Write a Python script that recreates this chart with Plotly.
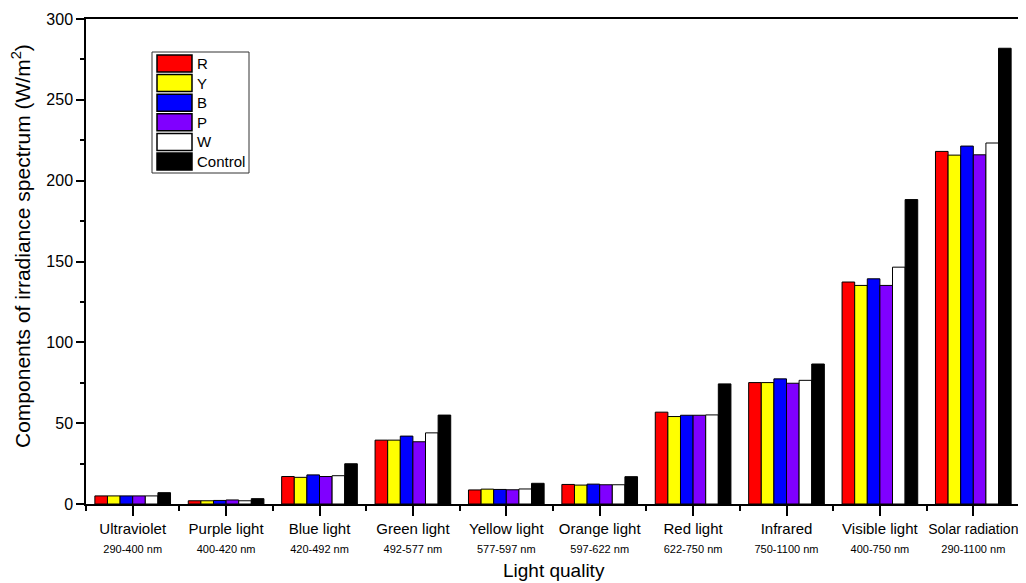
import plotly.graph_objects as go

categories = ["Ultraviolet", "Purple light", "Blue light", "Green light", "Yellow light",
              "Orange light", "Red light", "Infrared", "Visible light", "Solar radiation"]
ranges = ["290-400 nm", "400-420 nm", "420-492 nm", "492-577 nm", "577-597 nm",
          "597-622 nm", "622-750 nm", "750-1100 nm", "400-750 nm", "290-1100 nm"]

R = [5.0, 2.0, 17.0, 39.5, 8.7, 12.1, 56.8, 75.1, 137.3, 218.1]
Y = [5.0, 2.0, 16.5, 39.5, 9.2, 11.7, 54.1, 75.1, 135.2, 215.8]
B = [5.0, 2.2, 18.0, 42.0, 9.0, 12.3, 54.9, 77.4, 139.3, 221.4]
P = [5.0, 2.5, 17.0, 38.5, 8.8, 11.9, 54.9, 74.7, 135.2, 216.0]
W = [5.0, 2.0, 17.5, 44.0, 9.3, 11.9, 55.1, 76.5, 146.5, 223.3]
Control = [7.0, 3.3, 24.9, 55.0, 12.8, 16.9, 74.3, 86.6, 188.3, 281.9]

series_names = ["R", "Y", "B", "P", "W", "Control"]
series_values = [R, Y, B, P, W, Control]
series_colors = ["#ff0000", "#ffff00", "#0000ff", "#8000ff", "#ffffff", "#000000"]

x_idx = list(range(len(categories)))
ticktext = []
for c, r in zip(categories, ranges):
    # the last (longest) label is set a little tighter so it fits at the right edge, as in the original
    name = f"<span style='font-size:14px'>{c}</span>" if c == "Solar radiation" else c
    ticktext.append(f"{name}<br><span style='font-size:11px'>{r}</span>")

# The page body adds an 8px offset; figure is sized so it ends at the window edge.
OFF = 8
W_PX, H_PX = 1026 - OFF, 583 - OFF
# desired plot area on screen: x 86..1020, y 19..504
L = 86 - OFF
T = 19 - OFF
Rm = W_PX - (1020 - OFF)
Bm = H_PX - (504 - OFF)
PW = W_PX - L - Rm
PH = H_PX - T - Bm


def px(sx):
    return (sx - OFF - L) / PW


def py(sy):
    return (H_PX - Bm - (sy - OFF)) / PH


fig = go.Figure()
for name, vals, col in zip(series_names, series_values, series_colors):
    fig.add_trace(go.Bar(name=name, x=x_idx, y=vals, showlegend=False,
                         marker=dict(color=col, line=dict(color="black", width=1))))

font_family = "Liberation Sans, Arial, sans-serif"

shapes = []
annotations = []
# legend box
shapes.append(dict(type="rect", xref="paper", yref="paper", x0=px(152), x1=px(249), y0=py(173), y1=py(52),
                   line=dict(color="#333", width=1), fillcolor="white", layer="above"))
for i, (name, col) in enumerate(zip(series_names, series_colors)):
    top = 55 + 19.6 * i
    shapes.append(dict(type="rect", xref="paper", yref="paper", x0=px(157), x1=px(192),
                       y0=py(top + 17), y1=py(top), fillcolor=col,
                       line=dict(color="black", width=1.5), layer="above"))
    annotations.append(dict(xref="paper", yref="paper", x=px(195), y=py(top + 8.5), text=name,
                            showarrow=False, xanchor="left", yanchor="middle", font=dict(size=15)))

# axis titles
annotations.append(dict(xref="paper", yref="paper", x=px(554), y=py(570), text="Light quality", showarrow=False,
                        xanchor="center", yanchor="middle", font=dict(size=19)))
annotations.append(dict(xref="paper", yref="paper", x=px(21), y=py(246),
                        text="Components of irradiance spectrum (W/m<sup>2</sup>)", showarrow=False,
                        textangle=-90, xanchor="center", yanchor="middle", font=dict(size=21)))

fig.update_layout(
    barmode="group", bargap=0.19, bargroupgap=0,
    width=W_PX, height=H_PX,
    margin=dict(l=L, r=Rm, t=T, b=Bm, autoexpand=False),
    plot_bgcolor="white", paper_bgcolor="white",
    font=dict(family=font_family, size=15, color="black"),
    showlegend=False,
    shapes=shapes, annotations=annotations,
    xaxis=dict(
        range=[-0.5, 9.5], tickmode="array", tickvals=x_idx, ticktext=ticktext, tickangle=0,
        showline=True, linecolor="black", linewidth=1.5, mirror=True,
        ticks="outside", ticklen=10, tickwidth=1.5, tickcolor="black",
        minor=dict(tickmode="array", tickvals=[i + 0.5 for i in range(-1, 10)], ticks="outside",
                   ticklen=5, tickwidth=1.5, tickcolor="black"),
        showgrid=False, zeroline=False, automargin=False,
        tickfont=dict(size=15),
    ),
    yaxis=dict(
        range=[0, 300], tickvals=[0, 50, 100, 150, 200, 250, 300],
        showline=True, linecolor="black", linewidth=1.5, mirror=True,
        ticks="outside", ticklen=8, tickwidth=1.5, tickcolor="black",
        minor=dict(tickvals=[25, 75, 125, 175, 225, 275], ticks="outside", ticklen=4,
                   tickwidth=1.5, tickcolor="black"),
        showgrid=False, zeroline=False, automargin=False,
        tickfont=dict(size=16),
    ),
)

fig.write_html("out.html")
